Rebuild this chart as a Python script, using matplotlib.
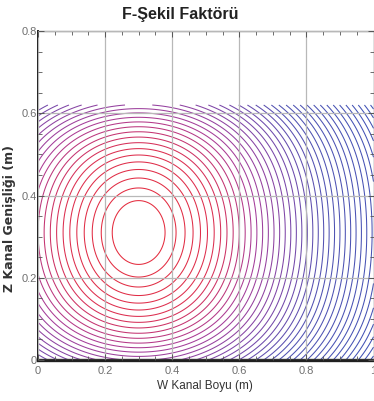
import matplotlib

matplotlib.use("Agg")

import matplotlib.pyplot as plt
import numpy as np
from matplotlib.colors import LinearSegmentedColormap
from matplotlib.ticker import MultipleLocator

plt.rcParams["font.family"] = ["Liberation Sans", "DejaVu Sans"]

# Field: centre of the rings, size of the domain,
# ring spacing and number of rings
CENTER_W = 0.30
CENTER_Z = 0.31
W_MAX = 1.0
Z_MAX = 0.62
CORE = 0.178          # flattening of the peak
STEP = 0.0154         # level spacing
Z_SQUEEZE = 2.5       # rings crowd toward the z walls
N_LEVELS = 42
FIRST_OFFSET = 1.08   # first ring, in steps below the peak

X_TICKS = [0, 0.2, 0.4, 0.6, 0.8, 1.0]
X_TICK_LABELS = ["0", "0.2", "0.4", "0.6", "0.8", "1"]
Y_TICKS = [0, 0.2, 0.4, 0.6, 0.8]
Y_TICK_LABELS = ["0", "0.2", "0.4", "0.6", "0.8"]

RING_COLORS = [
    (0.00, "#e42c3e"),
    (0.15, "#dc2e50"),
    (0.30, "#a83c98"),
    (0.45, "#7c46a8"),
    (0.62, "#5052b2"),
    (1.00, "#3e52b6"),
]


def shape_factor_field():
    w = np.linspace(0, W_MAX, 500)
    z = np.linspace(0, Z_MAX, 320)
    ww, zz = np.meshgrid(w, z)
    dz = zz - CENTER_Z
    dz_eff = dz * (1 + Z_SQUEEZE * dz ** 2)
    field = -np.sqrt((ww - CENTER_W) ** 2 + dz_eff ** 2 + CORE ** 2)
    return ww, zz, field


def main():
    ww, zz, field = shape_factor_field()
    top = -CORE - FIRST_OFFSET * STEP
    ring_levels = [top - k * STEP for k in range(N_LEVELS)]

    cmap = LinearSegmentedColormap.from_list("ring", RING_COLORS)
    ring_colors = [cmap(k / (N_LEVELS - 1)) for k in range(N_LEVELS)]

    levels = ring_levels[::-1]
    colors = ring_colors[::-1]

    fig = plt.figure(figsize=(3.74, 4.01), dpi=100)
    ax = fig.add_axes([38 / 374, 1 - 360 / 401, 335.5 / 374, 329 / 401])

    ax.contour(ww, zz, field, levels=levels, colors=colors, linewidths=0.75)

    ax.set_xlim(0, 1)
    ax.set_ylim(0, 0.8)
    ax.set_xticks(X_TICKS)
    ax.set_xticklabels(X_TICK_LABELS)
    ax.set_yticks(Y_TICKS)
    ax.set_yticklabels(Y_TICK_LABELS)
    ax.xaxis.set_minor_locator(MultipleLocator(0.05))
    ax.yaxis.set_minor_locator(MultipleLocator(0.05))
    ax.tick_params(which="both", direction="in", top=True, right=True,
                   colors="#555555", labelcolor="#707070", labelsize=8)
    ax.tick_params(which="major", length=4, width=0.7)
    ax.tick_params(which="minor", length=3, width=0.6)
    ax.tick_params(axis="x", pad=4)
    ax.tick_params(axis="y", pad=1)

    ax.grid(True, which="major", color="#b8b8b8", linewidth=0.9)
    ax.set_axisbelow(False)

    ax.spines["left"].set_linewidth(1.4)
    ax.spines["left"].set_color("#202020")
    ax.spines["bottom"].set_linewidth(2.4)
    ax.spines["bottom"].set_color("#202020")
    ax.spines["top"].set_linewidth(0.9)
    ax.spines["top"].set_color("#404040")
    ax.spines["right"].set_linewidth(0.9)
    ax.spines["right"].set_color("#404040")

    fig.text(180 / 374, 1 - 14 / 401, "F-Şekil Faktörü", ha="center",
             va="center", fontsize=11.5, fontweight="bold", color="#222222")
    fig.text(205 / 374, 1 - 386 / 401, "W Kanal Boyu (m)", ha="center",
             va="center", fontsize=8.5, color="#333333")
    fig.text(10 / 374, 1 - 218 / 401, "Z Kanal Genişliği (m)", ha="center",
             va="center", rotation=90, fontsize=9, fontweight="bold",
             color="#333333", family=["DejaVu Sans"])

    fig.savefig("out.png", dpi=100)
    plt.close(fig)


if __name__ == "__main__":
    main()
